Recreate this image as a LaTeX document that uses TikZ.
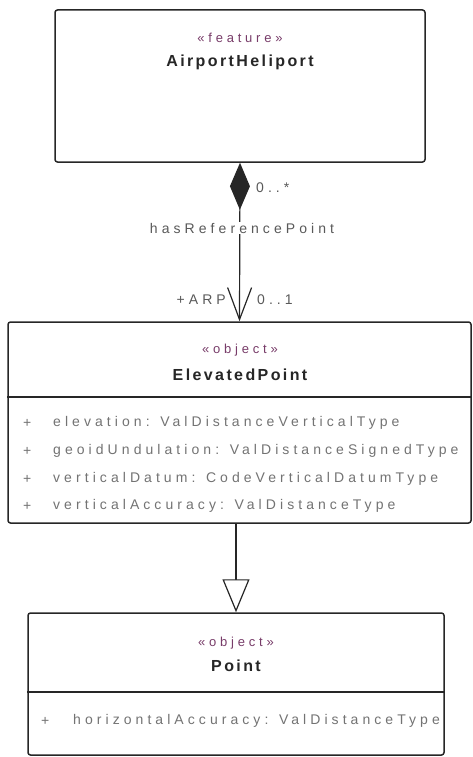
\documentclass[tikz,border=0pt]{standalone}
\usepackage{fontspec}
\setmainfont{Liberation Sans}
\newfontfamily\umlfont{Liberation Sans}[LetterSpace=29]
\newfontfamily\titlefont{Liberation Sans}[LetterSpace=15]
\usetikzlibrary{arrows.meta}
\definecolor{stereoplum}{RGB}{120,60,105}
\tikzset{
	classbox/.style={draw=black!85, line width=1.5pt, rounded corners=2.5pt, fill=white, inner sep=0pt},
	stereo/.style={font=\umlfont\fontsize{13}{15}\selectfont, text=stereoplum},
	classname/.style={font=\titlefont\bfseries\fontsize{16}{18}\selectfont, text=black!85},
	attr/.style={font=\umlfont\fontsize{14}{16}\selectfont, text=black!55, anchor=west, inner sep=0pt},
	role/.style={font=\umlfont\fontsize{14}{16}\selectfont, text=black!65, inner sep=1pt}
}
\begin{document}
\begin{tikzpicture}[x=1pt, y=-1pt]

		\useasboundingbox (0,0) rectangle (473,757);

		% Classes
		\node[classbox, minimum width=370pt, minimum height=152pt] (heliport) at (240,86) {};
		\node[stereo] (heliportst) at (240,38) {«feature»};
		\node[classname] (heliportnm) at (240,62) {AirportHeliport};

		\node[classbox, minimum width=463pt, minimum height=201pt] (elev) at (239.5,422.5) {};
		\node[stereo] (elevst) at (240,350) {«object»};
		\node[classname] (elevnm) at (240,375) {ElevatedPoint};
		\draw[line width=1.5pt, black!85] (elev.west |- 0,397) -- (elev.east |- 0,397);
		\node[attr] (elevp1) at (23,423) {+};
		\node[attr] (elevp2) at (23,451) {+};
		\node[attr] (elevp3) at (23,479) {+};
		\node[attr] (elevp4) at (23,506) {+};
		\node[attr] (elevat1) at (53,423) {elevation: ValDistanceVerticalType};
		\node[attr] (elevat2) at (53,451) {geoidUndulation: ValDistanceSignedType};
		\node[attr] (elevat3) at (53,479) {verticalDatum: CodeVerticalDatumType};
		\node[attr] (elevat4) at (53,506) {verticalAccuracy: ValDistanceType};

		\node[classbox, minimum width=416pt, minimum height=142pt] (point) at (236,684) {};
		\node[stereo] (pointst) at (236,643) {«object»};
		\node[classname] (pointnm) at (236,666) {Point};
		\draw[line width=1.5pt, black!85] (point.west |- 0,692) -- (point.east |- 0,692);
		\node[attr] (pointp1) at (41,721) {+};
		\node[attr] (pointat1) at (73,721) {horizontalAccuracy: ValDistanceType};

		% Edges
		\draw[line width=1.2pt, black!85, {Diamond[length=47pt, width=20pt]}-{Straight Barb[length=32pt, width=24pt]}] (heliport.south) -- (elev.north);
		\draw[line width=1.2pt, black!85, -{Triangle[open, length=33pt, width=27pt, fill=white]}] (elev.south -| point.north) -- (point.north);

		% Labels
		\node[role, anchor=west] (heliportmult) at (255,188) {0..*};
		\node[role, fill=white] (assocname) at (242,228) {hasReferencePoint};
		\node[role, anchor=east] (elevrole) at (227,300) {+ARP};
		\node[role, anchor=west] (elevmult) at (256,300) {0..1};

	\end{tikzpicture}
\end{document}
